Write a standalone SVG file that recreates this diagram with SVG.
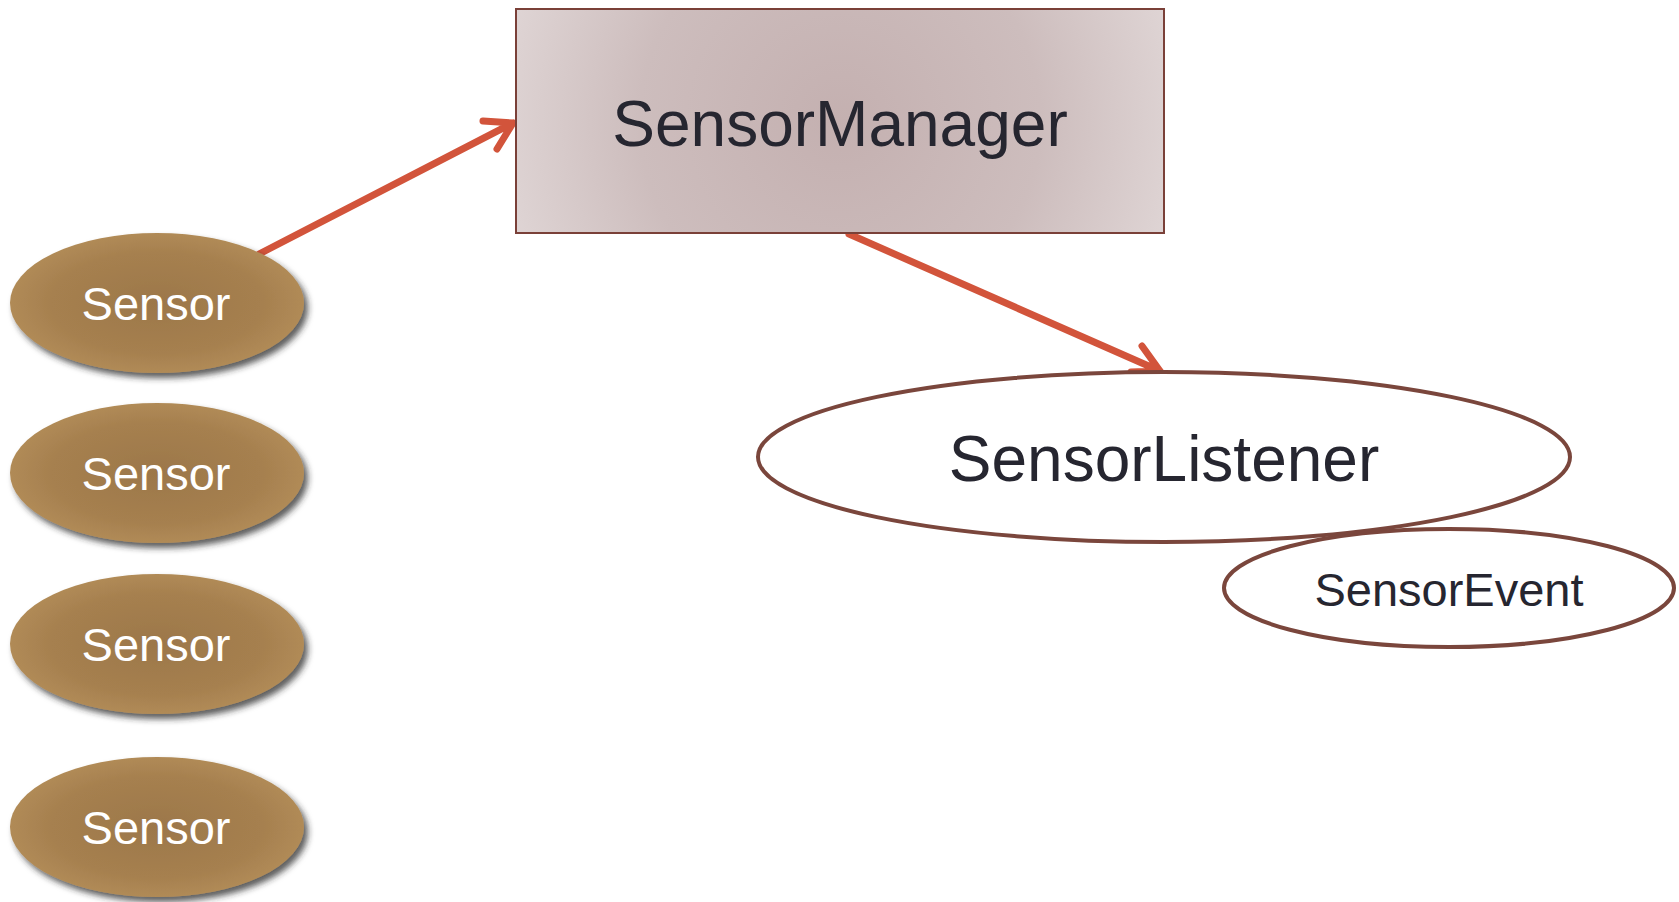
<svg xmlns="http://www.w3.org/2000/svg" width="1679" height="902" viewBox="0 0 1679 902">
<style>
.sensor{fill:url(#gSensor);filter:url(#shadow);}
.stxt{font-family:"Liberation Sans",Arial,sans-serif;font-size:47px;fill:#ffffff;text-anchor:middle;}
.dtxt{font-family:"Liberation Sans",Arial,sans-serif;fill:#262630;text-anchor:middle;}
.oval{fill:#ffffff;stroke:#7a463c;stroke-width:4;}
.conn{fill:none;stroke:#d2543b;stroke-width:7;stroke-linecap:round;stroke-linejoin:round;}
</style>
<defs>
<radialGradient id="gSensor" cx="0.5" cy="0.5" r="0.6">
<stop offset="0" stop-color="#9c774a"/>
<stop offset="0.6" stop-color="#a6804f"/>
<stop offset="1" stop-color="#b8925c"/>
</radialGradient>
<radialGradient id="gMgr" cx="0.5" cy="0.5" r="0.62" gradientTransform="translate(0.5 0.5) scale(1 2.9) translate(-0.5 -0.5)">
<stop offset="0" stop-color="#c4b0b0"/>
<stop offset="0.5" stop-color="#cdbdbd"/>
<stop offset="1" stop-color="#e6dede"/>
</radialGradient>
<filter id="shadow" x="-20%" y="-20%" width="150%" height="160%">
<feDropShadow dx="4" dy="5" stdDeviation="3" flood-color="#2a2a2a" flood-opacity="0.75"/>
</filter>
</defs>
<g id="connectors">
<path class="conn" d="M259 254 L513 123 M483 121 L513 123 L497 149"/>
<path class="conn" d="M849 234 L1160 371 M1142 346 L1160 371 L1131 372"/>
</g>
<g id="sensor1"><ellipse class="sensor" cx="157" cy="303" rx="147" ry="70"/><text class="stxt" x="156" y="320">Sensor</text></g>
<g id="sensor2"><ellipse class="sensor" cx="157" cy="473" rx="147" ry="70"/><text class="stxt" x="156" y="490">Sensor</text></g>
<g id="sensor3"><ellipse class="sensor" cx="157" cy="644" rx="147" ry="70"/><text class="stxt" x="156" y="661">Sensor</text></g>
<g id="sensor4"><ellipse class="sensor" cx="157" cy="827" rx="147" ry="70"/><text class="stxt" x="156" y="844">Sensor</text></g>
<g id="sensorManager"><rect x="516" y="9" width="648" height="224" fill="url(#gMgr)" stroke="#7a4038" stroke-width="2"/><text class="dtxt" x="840" y="146" font-size="64">SensorManager</text></g>
<g id="sensorEvent"><ellipse class="oval" cx="1449" cy="588" rx="225" ry="59"/><text class="dtxt" x="1449" y="606" font-size="47">SensorEvent</text></g>
<g id="sensorListener"><ellipse class="oval" cx="1164" cy="457" rx="406" ry="85"/><text class="dtxt" x="1164" y="481" font-size="64">SensorListener</text></g>
</svg>
